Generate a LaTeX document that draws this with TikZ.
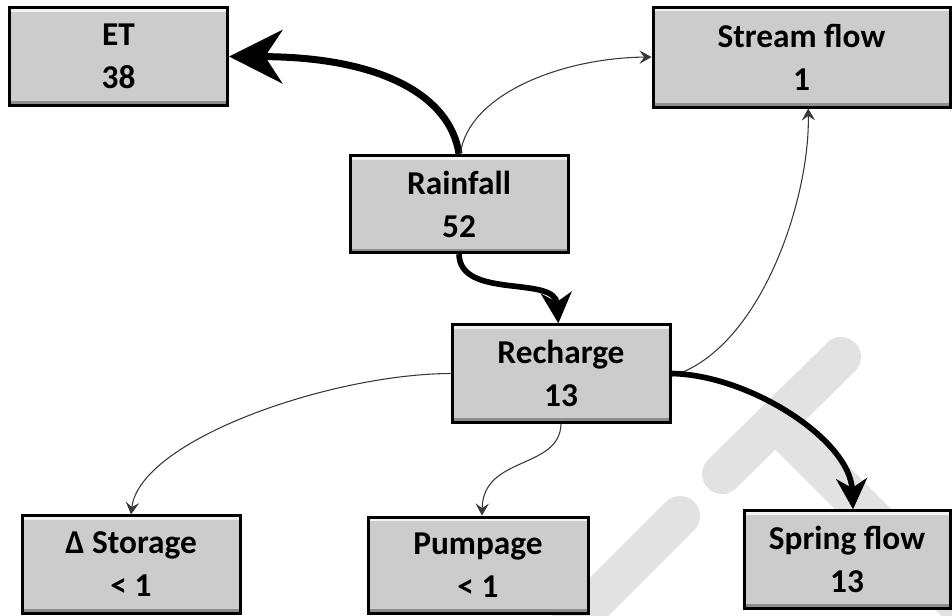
\documentclass[tikz,border=0pt]{standalone}
\usepackage{fontspec}
\setmainfont{Carlito}
\usetikzlibrary{arrows.meta}

\definecolor{boxgray}{RGB}{204,204,204}
\definecolor{markgray}{RGB}{226,226,226}
\definecolor{thingray}{RGB}{55,55,55}

\tikzset{every picture/.style={line width=0.75pt}}
\tikzset{
  flowbox/.style={draw, rectangle, line width=2.25pt, fill=boxgray, align=center,
    inner sep=0pt, minimum width=163.5pt, minimum height=73pt,
    font=\bfseries\fontsize{25}{32.25}\selectfont,
    path picture={
      \fill[white,opacity=0.75] ([yshift=-1.1pt]path picture bounding box.north west) rectangle ([yshift=-3.2pt]path picture bounding box.north east);
      \fill[black,opacity=0.3] ([yshift=1.1pt]path picture bounding box.south west) rectangle ([yshift=3pt]path picture bounding box.south east);
    }},
  bigflow/.style={line width=5.25pt, -{Stealth[length=40pt,width=40pt,inset=13pt]}},
  midflow/.style={line width=4.25pt, -{Stealth[length=23pt,width=23pt,inset=7pt]}},
  smallflow/.style={draw=thingray, line width=0.8pt, -{Stealth[length=9pt,width=10pt,inset=3.5pt]}},
  watermark/.style={draw=markgray, line width=30pt}
}

\begin{document}
\begin{tikzpicture}[x=0.75pt,y=0.75pt,yscale=-1,xscale=1]
\useasboundingbox (0,0) rectangle (952,615);

%Watermark strokes
\draw [watermark, line cap=round] (841,357) -- (722,474) ;
\draw [watermark] (776,422) -- (976,622) ;
\draw [watermark, line cap=round] (680,516) -- (540,656) ;

% Boxes
\node [flowbox] (et) at (118.5,56.5) {ET\\38};
\node [flowbox, minimum width=222.75pt, minimum height=75pt] (stream) at (801.5,57) {Stream flow\\1};
\node [flowbox] (rain) at (459,204) {Rainfall\\52};
\node [flowbox] (rech) at (561,373.5) {Recharge\\13};
\node [flowbox] (stor) at (131,564.5) {Δ Storage\\< 1};
\node [flowbox, minimum width=165pt, minimum height=72pt] (pump) at (478,565) {Pumpage\\< 1};
\node [flowbox, minimum width=154.5pt] (spring) at (847,559.5) {Spring flow\\13};

% Flows out of Rainfall
\draw [bigflow] (rain.north) .. controls (450,95) and (380,57) .. (et.east) ;
\draw [smallflow] ([xshift=1pt]rain.north) .. controls (468,95) and (560,58) .. (stream.west) ;
\draw [midflow] (rain.south) .. controls (460,300) and (555,275) .. ([xshift=-2pt]rech.north) ;

% Flows out of Recharge
\draw [smallflow] ([yshift=2pt]rech.east) .. controls (760,350) and (810,200) .. ([xshift=5pt]stream.south) ;
\draw [midflow] (rech.east) .. controls (750,375) and (850,440) .. ([xshift=4.5pt]spring.north) ;
\draw [smallflow] (rech.west) .. controls (330,374) and (140,440) .. (stor.north) ;
\draw [smallflow] (rech.south) .. controls (560,470) and (483,455) .. ([xshift=3pt]pump.north) ;

\end{tikzpicture}
\end{document}
